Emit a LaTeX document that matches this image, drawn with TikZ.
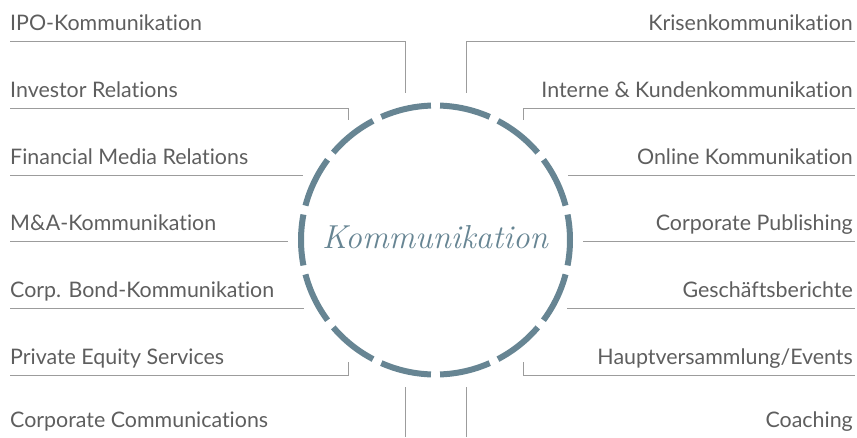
\documentclass[tikz,border=0pt]{standalone}
\usepackage{fontspec}
\setsansfont{Lato}[Ligatures=NoCommon]
\usepackage{xcolor}
\usepackage{tikz}

\definecolor{ringblue}{HTML}{678593}
\definecolor{labelgray}{HTML}{5E5E5E}
\definecolor{rulegray}{HTML}{9C9C9C}

\begin{document}
\begin{tikzpicture}[x=1pt, y=-1pt,
    lbl/.style={inner sep=0pt, text=labelgray, font=\sffamily\fontsize{21.4}{23}\selectfont},
    rule/.style={draw=rulegray, line width=0.8pt},
    ring/.style={draw=ringblue, line width=6pt}]
        \useasboundingbox (0,0) rectangle (857,437);

        % centre
        \node (hub) at (435.5,240) {};
        \foreach \a in {0,...,13}
            \draw[ring] ([shift={(\a*360/14-10.9:134.5)}]hub.center) arc[start angle=\a*360/14-10.9, delta angle=21.8, radius=134.5];
        \node[anchor=base, text=ringblue, inner sep=0pt, font=\fontsize{33.2}{34}\selectfont\itshape] (title) at (435,248) {Kommunikation};

        % left side
        \node[lbl, anchor=base west] (ipo) at (10,30) {IPO-Kommunikation};
        \node[lbl, anchor=base west] (ir) at (10,97) {Investor Relations};
        \node[lbl, anchor=base west] (fmr) at (10,164) {Financial Media Relations};
        \node[lbl, anchor=base west] (ma) at (10,230) {M\&A-Kommunikation};
        \node[lbl, anchor=base west] (bond) at (10,297) {Corp. Bond-Kommunikation};
        \node[lbl, anchor=base west] (pe) at (10,364) {Private Equity Services};
        \node[lbl, anchor=base west] (cc) at (10,427) {Corporate Communications};

        \draw[rule] (10,41) -| (405,93);
        \draw[rule] (10,108) -| (348,120);
        \draw[rule] (10,175) -- (303,175);
        \draw[rule] (10,241) -- (288,241);
        \draw[rule] (10,308) -- (304,308);
        \draw[rule] (10,375) -| (348,362);
        \draw[rule] (405,387) -- (405,437);

        % right side
        \node[lbl, anchor=base east] (krise) at (853,30) {Krisenkommunikation};
        \node[lbl, anchor=base east] (intern) at (853,97) {Interne \& Kundenkommunikation};
        \node[lbl, anchor=base east] (online) at (853,164) {Online Kommunikation};
        \node[lbl, anchor=base east] (publ) at (853,230) {Corporate Publishing};
        \node[lbl, anchor=base east] (gb) at (853,297) {Geschäftsberichte};
        \node[lbl, anchor=base east] (hv) at (853,364) {Hauptversammlung/Events};
        \node[lbl, anchor=base east] (coach) at (853,427) {Coaching};

        \draw[rule] (855,41) -| (466,93);
        \draw[rule] (855,108) -| (523,120);
        \draw[rule] (855,175) -- (568,175);
        \draw[rule] (855,241) -- (583,241);
        \draw[rule] (855,308) -- (567,308);
        \draw[rule] (855,375) -| (523,362);
        \draw[rule] (466,387) -- (466,437);
    \end{tikzpicture}
\end{document}
